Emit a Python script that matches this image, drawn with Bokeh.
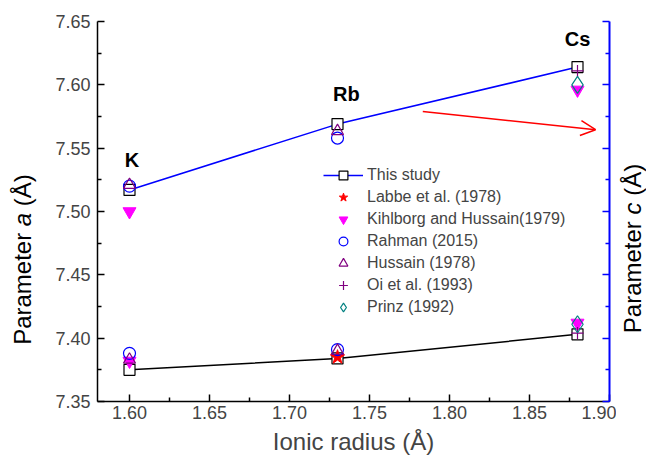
import math
from bokeh.plotting import figure
from bokeh.layouts import row
from bokeh.models import (Range1d, FixedTicker, PrintfTickFormatter, LinearAxis,
                          Legend, LegendItem, Arrow, OpenHead, CustomJSTickFormatter)
from bokeh.core.properties import value
from bokeh.embed import file_html
from bokeh.resources import INLINE

# ---------------- data ----------------
ionic_radius = [1.60, 1.73, 1.88]
ions = ["K", "Rb", "Cs"]
ion_label_x = [1.6015, 1.7355, 1.88]
ion_label_y = [7.541, 7.593, 7.636]
this_study_a = [7.517, 7.569, 7.614]
this_study_c = [7.375, 7.384, 7.403]

labbe_x = [1.73]
labbe_y = [7.385]
kihlborg_x = [1.60, 1.60, 1.88, 1.88]
kihlborg_y = [7.500, 7.382, 7.596, 7.412]
rahman_x = [1.60, 1.60, 1.73, 1.73]
rahman_y = [7.520, 7.388, 7.558, 7.391]
hussain_x = [1.60, 1.60, 1.73, 1.73]
hussain_y = [7.521, 7.383, 7.5635, 7.390]
oi_x = [1.88, 1.88]
oi_y = [7.611, 7.404]
prinz_x = [1.88, 1.88]
prinz_y = [7.600, 7.411]

x_ticks = [1.60, 1.65, 1.70, 1.75, 1.80, 1.85, 1.90]
x_minor = [1.625, 1.675, 1.725, 1.775, 1.825, 1.875]
y_ticks = [7.35, 7.40, 7.45, 7.50, 7.55, 7.60, 7.65]
y_minor = [7.375, 7.425, 7.475, 7.525, 7.575, 7.625]

FONT = "Liberation Sans"
TITLE_FS = 24
H = 460
LEFT_W, RIGHT_W = 44, 30
MAIN_W = 646 - LEFT_W - RIGHT_W

# ---------------- main figure ----------------
p = figure(width=MAIN_W, height=H, x_range=Range1d(1.58, 1.90), y_range=Range1d(7.35, 7.65),
           output_backend="svg", toolbar_location=None,
           min_border_left=97 - LEFT_W, min_border_right=7,
           min_border_top=21, min_border_bottom=H - 401)
p.outline_line_color = None
p.grid.visible = False
p.background_fill_color = "white"

xa = p.xaxis[0]
xa.ticker = FixedTicker(ticks=x_ticks, minor_ticks=x_minor)
xa.formatter = PrintfTickFormatter(format="%.2f")
xa.axis_label = "Ionic radius (Å)"
xa.axis_label_text_font = FONT
xa.axis_label_text_font_size = f"{TITLE_FS}px"
xa.axis_label_text_font_style = "normal"
xa.axis_label_standoff = 6
xa.major_label_text_font = FONT
xa.major_label_text_font_size = "18px"
xa.major_label_standoff = 4

ya = p.yaxis[0]
ya.ticker = FixedTicker(ticks=y_ticks, minor_ticks=y_minor)
ya.formatter = PrintfTickFormatter(format="%.2f")
ya.major_label_text_font = FONT
ya.major_label_text_font_size = "18px"
ya.major_label_standoff = 7

ra = LinearAxis(ticker=FixedTicker(ticks=y_ticks, minor_ticks=y_minor),
                formatter=CustomJSTickFormatter(code="return ''"))
ra.major_label_standoff = 0
ra.axis_line_color = "#0000FF"
ra.major_tick_line_color = "#0000FF"
ra.minor_tick_line_color = "#0000FF"
p.add_layout(ra, "right")

for ax in [xa, ya, ra]:
    ax.major_tick_in = 7
    ax.major_tick_out = 0
    ax.minor_tick_in = 4
    ax.minor_tick_out = 0
    ax.axis_line_width = 1.5
    ax.major_tick_line_width = 1.5
    ax.minor_tick_line_width = 1.5
ra.axis_line_width = 2

# ---------------- glyphs ----------------
line_a = p.line(ionic_radius, this_study_a, line_color="#0000FF", line_width=1.5)
line_c = p.line(ionic_radius, this_study_c, line_color="black", line_width=1.5)
sq_a = p.scatter(ionic_radius, this_study_a, marker="square", size=11,
                 line_color="black", fill_color="white", line_width=1.2)
sq_c = p.scatter(ionic_radius, this_study_c, marker="square", size=11,
                 line_color="black", fill_color="white", line_width=1.2)

r_kih = p.scatter(kihlborg_x, kihlborg_y, marker="inverted_triangle", size=13,
                  line_color="#FF00FF", fill_color="#FF00FF")
r_lab = p.scatter(labbe_x, labbe_y, marker="star", size=15,
                  line_color="#FF0000", fill_color="#FF0000")
r_rah = p.scatter(rahman_x, rahman_y, marker="circle", size=12,
                  line_color="#0000FF", fill_color=None, line_width=1.2)
r_hus = p.scatter(hussain_x, hussain_y, marker="triangle", size=12,
                  line_color="#800080", fill_color=None, line_width=1.2)
r_oi = p.scatter(oi_x, oi_y, marker="cross", size=12,
                 line_color="#800080", line_width=1.2)
r_pri = p.scatter(prinz_x, prinz_y, marker="diamond", size=17,
                  line_color="#008080", fill_color=None, line_width=1.2)

p.text(ion_label_x, ion_label_y, text=ions, text_font=value(FONT),
       text_font_style="bold", text_font_size="20px",
       text_align="center", text_baseline="middle", text_color="black")

p.add_layout(Arrow(end=OpenHead(size=15, line_color="#FF0000", line_width=1.5),
                   x_start=1.7833, y_start=7.579, x_end=1.8913, y_end=7.5646,
                   line_color="#FF0000", line_width=1.5))

legend = Legend(items=[
    LegendItem(label="This study", renderers=[line_a, sq_a]),
    LegendItem(label="Labbe et al. (1978)", renderers=[r_lab]),
    LegendItem(label="Kihlborg and Hussain(1979)", renderers=[r_kih]),
    LegendItem(label="Rahman (2015)", renderers=[r_rah]),
    LegendItem(label="Hussain (1978)", renderers=[r_hus]),
    LegendItem(label="Oi et al. (1993)", renderers=[r_oi]),
    LegendItem(label="Prinz (1992)", renderers=[r_pri]),
], location=(226, 83), label_text_font=FONT, label_text_font_size="16px",
    glyph_width=40, glyph_height=22, label_height=22, spacing=0, padding=0, margin=0,
    label_standoff=4, border_line_color=None, background_fill_alpha=0)
p.add_layout(legend)

# ---------------- side figures holding the rotated y titles ----------------
def side_fig(w):
    f = figure(frame_width=w, frame_height=H, x_range=Range1d(0, w), y_range=Range1d(0, H),
               output_backend="svg", toolbar_location=None, title=None,
               x_axis_type=None, y_axis_type=None,
               min_border_left=0, min_border_right=0, min_border_top=0, min_border_bottom=0)
    f.outline_line_color = None
    f.grid.visible = False
    return f

def rot_title(f, cx, cy_page, sym, fs):
    w_word = 4.668 * fs
    w_space = 0.278 * fs
    w_sym = {"a": 0.556, "c": 0.5}[sym] * fs
    w_tail = 1.333 * fs
    total = w_word + w_space + w_sym + w_space + w_tail
    y0 = (H - cy_page) - total / 2
    for txt, off, style in [("Parameter", 0.0, "normal"),
                            (sym, w_word + w_space, "italic"),
                            ("(Å)", w_word + w_space + w_sym + w_space, "normal")]:
        f.text([cx], [y0 + off], text=[txt], angle=math.pi / 2, text_font=value(FONT),
               text_font_size=f"{fs}px", text_font_style=style,
               text_align="left", text_baseline="middle", text_color="black")

left_f = side_fig(LEFT_W)
rot_title(left_f, 22, 238, "a", TITLE_FS)
right_f = side_fig(RIGHT_W)
rot_title(right_f, 632 - (646 - RIGHT_W), 227, "c", TITLE_FS)

layout = row(left_f, p, right_f, spacing=0)
open("out.html", "w").write(file_html(layout, INLINE))
